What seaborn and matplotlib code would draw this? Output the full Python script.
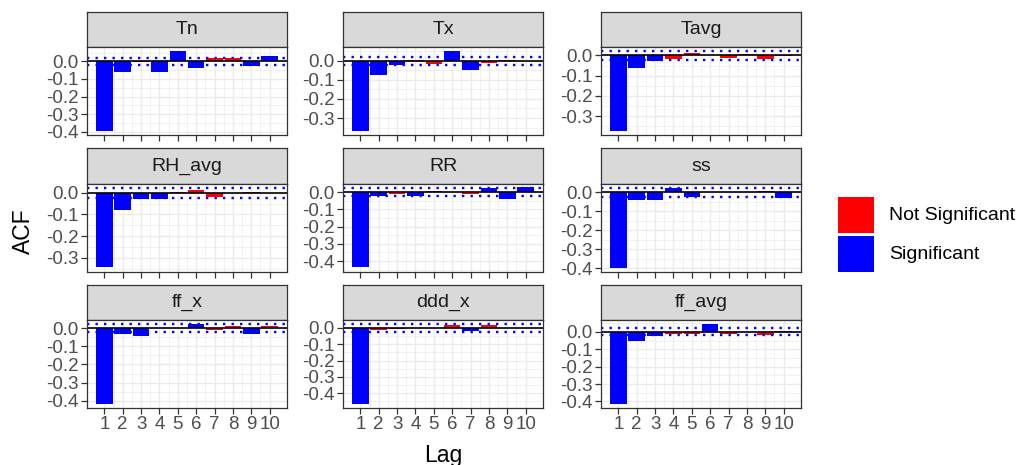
import numpy as np
import pandas as pd
import matplotlib
matplotlib.use("Agg")
import matplotlib.pyplot as plt
import seaborn as sns
from matplotlib.patches import Rectangle
from matplotlib.ticker import MultipleLocator, FuncFormatter

# ---- data: autocorrelation at lags 1..10 for each weather variable ----
variables = ["Tn", "Tx", "Tavg", "RH_avg", "RR", "ss", "ff_x", "ddd_x", "ff_avg"]
lags = list(range(1, 11))

tn_acf = [-0.396, -0.063, -0.002, -0.063, 0.059, -0.040, 0.017, 0.017, -0.025, 0.030]
tx_acf = [-0.368, -0.077, -0.021, 0.002, -0.019, 0.051, -0.046, -0.010, 0.002, -0.002]
tavg_acf = [-0.373, -0.063, -0.028, -0.017, 0.012, 0.002, -0.015, 0.005, -0.017, -0.005]
rh_avg_acf = [-0.345, -0.078, -0.028, -0.028, 0.002, 0.011, -0.019, -0.002, 0.001, -0.001]
rr_acf = [-0.437, -0.025, -0.012, -0.025, 0.008, 0.001, -0.008, 0.025, -0.037, 0.027]
ss_acf = [-0.395, -0.038, -0.038, 0.025, -0.023, 0.002, -0.001, 0.001, 0.007, -0.029]
ff_x_acf = [-0.417, -0.035, -0.043, 0.001, -0.002, 0.020, -0.013, 0.013, -0.035, 0.013]
ddd_x_acf = [-0.466, -0.015, -0.006, 0.001, -0.001, 0.018, -0.021, 0.015, 0.002, -0.001]
ff_avg_acf = [-0.415, -0.051, -0.023, -0.010, -0.010, 0.045, -0.012, 0.001, -0.019, 0.002]

# 1 = significant, 0 = not significant
tn_sig = [1, 1, 0, 1, 1, 1, 0, 0, 1, 1]
tx_sig = [1, 1, 1, 0, 0, 1, 1, 0, 0, 0]
tavg_sig = [1, 1, 1, 0, 0, 0, 0, 0, 0, 0]
rh_avg_sig = [1, 1, 1, 1, 0, 0, 0, 0, 0, 0]
rr_sig = [1, 1, 0, 1, 0, 0, 0, 1, 1, 1]
ss_sig = [1, 1, 1, 1, 1, 0, 0, 0, 0, 1]
ff_x_sig = [1, 1, 1, 0, 0, 1, 0, 0, 1, 0]
ddd_x_sig = [1, 0, 0, 0, 0, 0, 1, 0, 0, 0]
ff_avg_sig = [1, 1, 1, 0, 0, 1, 0, 0, 0, 0]

# 95% confidence bound (+/-) per variable
conf_bounds = [0.021, 0.021, 0.022, 0.024, 0.023, 0.023, 0.022, 0.024, 0.021]

sig_labels = ["Not Significant", "Significant"]
palette = {"Not Significant": "#FF0000", "Significant": "#0000FF"}

acf_lists = [tn_acf, tx_acf, tavg_acf, rh_avg_acf, rr_acf, ss_acf,
             ff_x_acf, ddd_x_acf, ff_avg_acf]
sig_lists = [tn_sig, tx_sig, tavg_sig, rh_avg_sig, rr_sig, ss_sig,
             ff_x_sig, ddd_x_sig, ff_avg_sig]

frames = []
for var, a, s in zip(variables, acf_lists, sig_lists):
    frames.append(pd.DataFrame({
        "variable": var,
        "Lag": [str(l) for l in lags],
        "ACF": a,
        "sig": [sig_labels[v] for v in s],
    }))
df = pd.concat(frames, ignore_index=True)

# ---- figure ----
sns.set_theme(style="white")
plt.rcParams["font.family"] = ["Liberation Sans", "DejaVu Sans"]

W, H = 1021, 465
fig = plt.figure(figsize=(W / 100, H / 100), dpi=100)

col_left = [87, 343, 601]
panel_w = 200
strip_top0 = 12
row_step = 136.5
strip_h = 35
panel_h = 88

grid_col = "#EBEBEB"
border_col = "#333333"
tick_col = "#4D4D4D"
tick_fs = 13.5


def fig_rect(x, y, w, h):
    return [x / W, 1 - (y + h) / H, w / W, h / H]


for i, var in enumerate(variables):
    r, c = divmod(i, 3)
    st = strip_top0 + r * row_step
    x0 = col_left[c]

    # strip
    sax = fig.add_axes(fig_rect(x0, st, panel_w, strip_h))
    sax.set_facecolor("#D9D9D9")
    sax.set_xticks([])
    sax.set_yticks([])
    for sp in sax.spines.values():
        sp.set_color(border_col)
        sp.set_linewidth(0.9)
    sax.text(0.5, 0.5, var, transform=sax.transAxes, ha="center", va="center",
             fontsize=14, color="#1A1A1A")

    # panel
    ax = fig.add_axes(fig_rect(x0, st + strip_h, panel_w, panel_h))
    ax.set_facecolor("white")
    sub = df[df["variable"] == var]
    sns.barplot(data=sub, x="Lag", y="ACF", hue="sig", hue_order=sig_labels,
                order=[str(l) for l in lags], palette=palette, dodge=False,
                width=0.9, saturation=1, linewidth=0, legend=False, ax=ax)

    b = conf_bounds[i]
    ax.axhline(0, color="black", lw=1.2, zorder=4)
    for yv in (b, -b):
        ax.axhline(yv, color="#0000FF", lw=1.7, linestyle=(0, (1, 2.6)), zorder=4)

    lo = min(sub["ACF"].min(), -b, 0)
    hi = max(sub["ACF"].max(), b, 0)
    pad = 0.05 * (hi - lo)
    ax.set_ylim(lo - pad, hi + pad)
    ax.set_xlim(-0.945, 9.945)

    ax.yaxis.set_major_locator(MultipleLocator(0.1))
    ax.yaxis.set_minor_locator(MultipleLocator(0.05))
    ax.set_xticks(range(len(lags)))
    ax.set_xticks(np.arange(len(lags) - 1) + 0.5, minor=True)
    ax.grid(True, which="major", color=grid_col, lw=1.0, zorder=0)
    ax.grid(True, which="minor", color=grid_col, lw=0.5, zorder=0)
    ax.set_axisbelow(True)

    ax.yaxis.set_major_formatter(FuncFormatter(
        lambda v, p: f"{v:.1f}".replace("-0.0", "0.0")))
    ax.tick_params(axis="both", which="major", length=4.5, width=0.9,
                   color=border_col, labelcolor=tick_col, labelsize=tick_fs,
                   pad=1.5, left=True, bottom=True)
    ax.tick_params(axis="both", which="minor", length=0)
    if r < 2:
        ax.tick_params(axis="x", which="major", labelbottom=False)
    ax.set_xlabel("")
    ax.set_ylabel("")
    for sp in ax.spines.values():
        sp.set_color(border_col)
        sp.set_linewidth(0.9)
        sp.set_zorder(5)

fig.text(23 / W, 1 - 231 / H, "ACF", rotation=90, ha="center", va="center",
         fontsize=16.5, color="black")
fig.text(443 / W, 1 - 462 / H, "Lag", ha="center", va="baseline",
         fontsize=16.5, color="black")

# legend: colour keys with labels
lax = fig.add_axes([0, 0, 1, 1], facecolor="none")
lax.set_xlim(0, W)
lax.set_ylim(H, 0)
lax.axis("off")
key_top = 197
for k, s in enumerate(sig_labels):
    y = key_top + k * 39
    lax.add_patch(Rectangle((838, y), 36, 36, facecolor=palette[s], edgecolor="none"))
    lax.text(889, y + 18, s, ha="left", va="center", fontsize=14, color="black")

fig.savefig("out.png", dpi=100, facecolor="white")
